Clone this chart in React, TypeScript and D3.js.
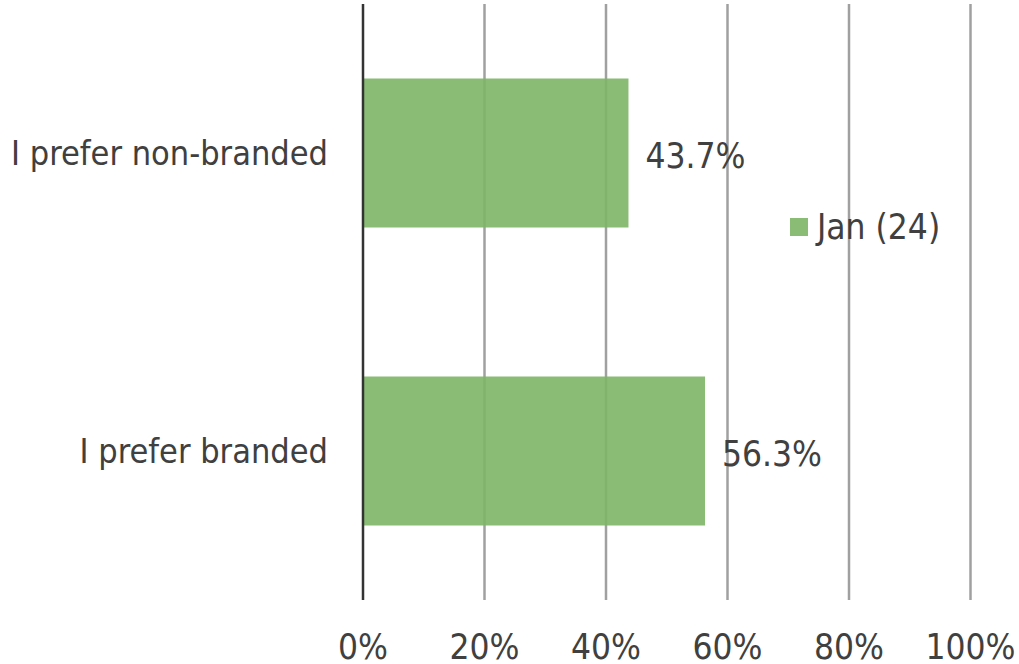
import React from "react";
import * as d3 from "d3";

const categories = ["I prefer non-branded", "I prefer branded"];
const values = [43.7, 56.3];
const tickValues = [0, 20, 40, 60, 80, 100];
const seriesName = "Jan (24)";

const W = 1019;
const H = 664;
const FONT = "'DejaVu Sans Condensed', 'DejaVu Sans', sans-serif";
const TEXT = "#404040";
const BAR = "#7DB567";

export default function App() {
  const x = d3.scaleLinear().domain([0, 100]).range([363, 970.5]);
  const y = d3.scaleBand<string>().domain(categories).range([4, 600]).paddingInner(0.5).paddingOuter(0.25);
  return (
    <svg width={W} height={H} style={{ position: "absolute", left: 0, top: 0, background: "#fff" }}>
      {tickValues.slice(1).map((t) => (
        <line key={t} x1={x(t)} x2={x(t)} y1={4} y2={600} stroke="#a0a0a0" strokeWidth={2.5} />
      ))}
      {categories.map((c, i) => (
        <rect key={c} x={x(0)} y={y(c)} width={x(values[i]) - x(0)} height={y.bandwidth()} fill={BAR} fillOpacity={0.9} />
      ))}
      <line x1={x(0)} x2={x(0)} y1={4} y2={600} stroke="#333" strokeWidth={2.5} />
      {categories.map((c, i) => (
        <text key={c} x={328} y={(y(c) as number) + y.bandwidth() / 2} dy="0.35em" textAnchor="end"
          fontFamily={FONT} fontSize={34} fill={TEXT}>{c}</text>
      ))}
      {categories.map((c, i) => (
        <text key={c + "v"} x={x(values[i]) + 17} y={(y(c) as number) + y.bandwidth() / 2 + 3} dy="0.35em"
          fontFamily={FONT} fontSize={35} fill={TEXT}>{values[i].toFixed(1)}%</text>
      ))}
      {tickValues.map((t) => (
        <text key={"t" + t} x={x(t)} y={659} textAnchor="middle" fontFamily={FONT} fontSize={35} fill={TEXT}>{t}%</text>
      ))}
      <rect x={790} y={218} width={18} height={18} fill={BAR} fillOpacity={0.9} />
      <text x={817} y={227} dy="0.35em" fontFamily={FONT} fontSize={35} fill={TEXT}>{seriesName}</text>
    </svg>
  );
}
